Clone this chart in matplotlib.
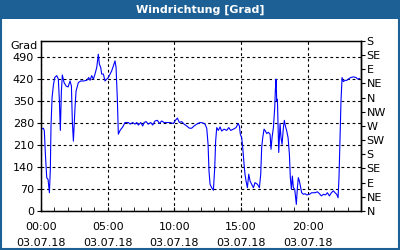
import matplotlib
matplotlib.use("Agg")
import matplotlib.pyplot as plt
from matplotlib.patches import Rectangle

# Stunden seit 03.07.18 00:00 und Windrichtung in Grad
hours = [0.00, 0.18, 0.25, 0.33, 0.43, 0.53, 0.63, 0.70, 0.75, 0.83, 0.93, 1.03,
         1.18, 1.30, 1.38, 1.45, 1.53, 1.60, 1.73, 1.88, 2.03, 2.18, 2.28, 2.35,
         2.43, 2.48, 2.55, 2.63, 2.80, 2.98, 3.18, 3.43, 3.58, 3.68, 3.80, 3.93,
         4.05, 4.18, 4.30, 4.38, 4.48, 4.55, 4.68, 4.80, 4.93, 5.05, 5.18, 5.30,
         5.43, 5.55, 5.63, 5.73, 5.80, 5.93,
         6.13, 6.30, 6.55, 6.68, 6.88, 7.05, 7.18, 7.30, 7.48, 7.63, 7.73, 7.88,
         8.05, 8.23, 8.38, 8.55, 8.73, 8.88, 9.05, 9.23, 9.43, 9.68, 9.93, 10.08,
         10.23, 10.38, 10.55, 10.73, 10.93, 11.13, 11.30, 11.48, 11.68, 11.93,
         12.13, 12.30, 12.43, 12.53, 12.60, 12.68, 12.80, 12.93, 13.03, 13.10,
         13.18, 13.30, 13.43, 13.55, 13.73, 13.93, 14.08, 14.23, 14.43, 14.63,
         14.78, 14.88, 14.95, 15.05, 15.13, 15.23, 15.30, 15.38, 15.48, 15.58,
         15.68, 15.80, 15.93, 16.05, 16.23, 16.38, 16.48, 16.55, 16.63, 16.73,
         16.83, 16.93, 17.05, 17.18, 17.25, 17.33, 17.43, 17.53, 17.58, 17.63,
         17.68, 17.73, 17.78, 17.83, 17.93,
         18.00, 18.08, 18.18, 18.25, 18.33, 18.43, 18.53, 18.63, 18.70, 18.78,
         18.85, 18.93, 19.03, 19.10, 19.15, 19.23, 19.30, 19.38, 19.48, 19.55,
         19.68, 19.80, 19.93, 20.13, 20.30, 20.55, 20.73, 20.88, 21.03, 21.18,
         21.33, 21.48, 21.63, 21.78, 21.93, 22.05, 22.18, 22.28, 22.35, 22.43,
         22.50, 22.58, 22.68, 22.80, 22.93, 23.05, 23.23, 23.43, 23.63, 23.75,
         23.88]
grad = [260, 263, 255, 180, 106, 100, 58, 132, 270, 360, 400, 424,
        430, 419, 350, 256, 381, 432, 408, 397, 394, 413, 397, 286,
        222, 265, 328, 381, 408, 413, 413, 415, 424, 415, 430, 419,
        435, 456, 498, 466, 456, 435, 435, 413, 419, 424, 435, 445,
        461, 477, 456, 350, 244, 256,
        267, 281, 281, 276, 281, 276, 281, 273, 281, 270, 281, 284,
        276, 281, 273, 286, 288, 278, 286, 281, 281, 281, 278, 288,
        295, 281, 284, 276, 270, 263, 263, 270, 276, 281,
        280, 276, 263, 212, 127, 85, 74, 66, 138, 223,
        265, 256, 267, 254, 260, 256, 265, 256, 260, 265,
        278, 270, 244, 233, 201, 148, 117, 95, 74, 117,
        95, 85, 74, 90, 85, 74, 117, 201, 233, 260,
        254, 246, 250, 244, 196, 233, 265, 329, 387, 419,
        350, 355, 276, 186, 278,
        233, 212, 265, 288, 270, 254, 233, 180, 106, 69,
        111, 74, 69, 42, 21, 74, 106, 95, 74, 58,
        53, 55, 51, 53, 58, 58, 61, 55, 48, 53,
        51, 58, 48, 58, 64, 58, 53, 42, 106, 239,
        350, 424, 411, 415, 415, 419, 424, 426, 424, 419,
        421]

left_ticks = [0, 70, 140, 210, 280, 350, 420, 490]
right_ticks = [0, 45, 90, 135, 180, 225, 270, 315, 360, 405, 450, 495, 540]
right_labels = ['N', 'NE', 'E', 'SE', 'S', 'SW', 'W', 'NW', 'N', 'NE', 'E', 'SE', 'S']
x_ticks = [0, 5, 10, 15, 20]
x_labels = ['00:00\n03.07.18', '05:00\n03.07.18', '10:00\n03.07.18',
            '15:00\n03.07.18', '20:00\n03.07.18']

blue = '#1d6096'
fig = plt.figure(figsize=(4, 2.5), dpi=100)
fig.patch.set_facecolor('white')

# Titelleiste und Rahmen
fig.patches.append(Rectangle((0, 1 - 19 / 250), 1, 19 / 250, transform=fig.transFigure,
                             facecolor=blue, edgecolor='none', zorder=0))
fig.patches.append(Rectangle((0.002, 0.004), 0.996, 0.99, transform=fig.transFigure,
                             facecolor='none', edgecolor=blue, lw=1.5, zorder=1))
fig.text(0.5, 1 - 10 / 250, 'Windrichtung [Grad]', color='white', fontsize=8,
         fontweight='bold', ha='center', va='center')

ax = fig.add_axes([41 / 400, 39 / 250, 320 / 400, 170 / 250])
ax.plot(hours, grad, color='#0000ff', lw=0.8, zorder=3)
ax.set_xlim(0, 24)
ax.set_ylim(0, 540)
ax.set_yticks(left_ticks)
ax.set_xticks(x_ticks)
ax.set_xticklabels(x_labels, linespacing=1.7)
ax.set_xticks(range(0, 25), minor=True)
ax.grid(True, color='black', ls=(0, (2.5, 2.5)), lw=0.8)
ax.tick_params(axis='both', labelsize=8, color='black', width=0.8)
ax.tick_params(axis='y', length=3, pad=2)
ax.tick_params(axis='x', which='major', length=3, direction='in', pad=8)
ax.tick_params(axis='x', which='minor', length=3, direction='in')
for s in ax.spines.values():
    s.set_linewidth(1)
ax.text(-0.012, 1.0 - 5 / 170, 'Grad', transform=ax.transAxes, fontsize=8,
        ha='right', va='center')

ax2 = ax.twinx()
ax2.set_ylim(0, 540)
ax2.set_yticks(right_ticks)
ax2.set_yticklabels(right_labels)
ax2.tick_params(axis='y', labelsize=8, length=3, width=0.8, pad=1)
ax2.spines['right'].set_linewidth(1)

fig.savefig('out.png', dpi=100)
